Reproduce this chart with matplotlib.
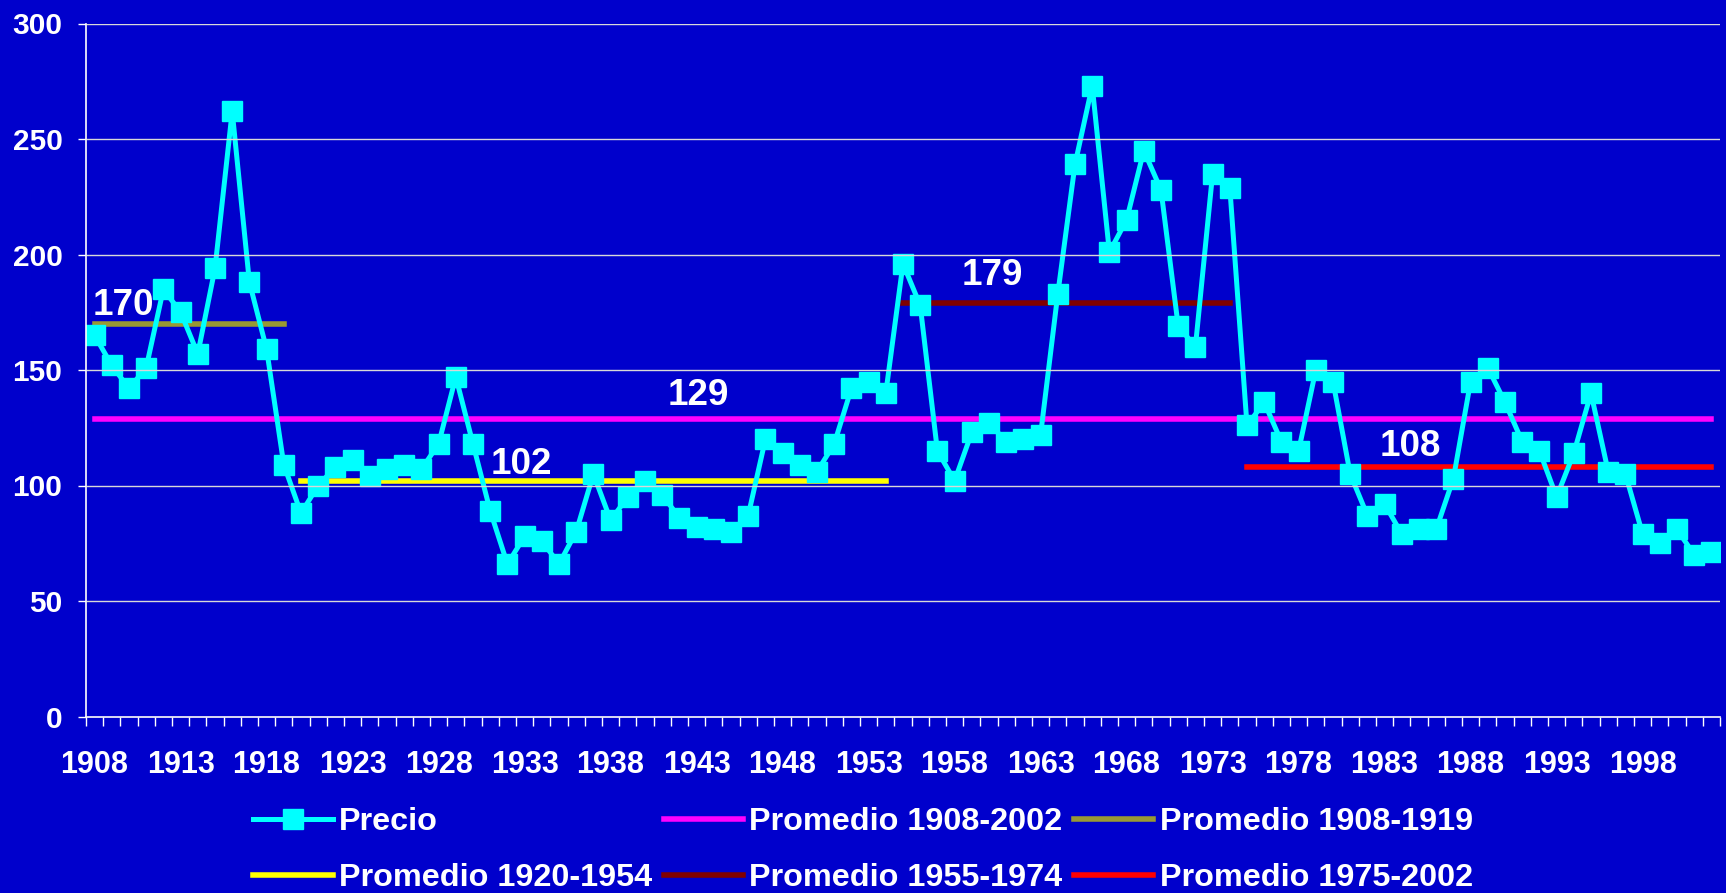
#!/usr/bin/env python3
# precio_promedios.py

import matplotlib
matplotlib.use("Agg")
import matplotlib.pyplot as plt
from matplotlib.ticker import FixedLocator, NullFormatter

plt.rcParams["font.family"] = ["Liberation Sans", "DejaVu Sans"]
plt.rcParams["font.weight"] = "bold"

# Price series, one value per year
years = list(range(1908, 2003))
precio = [
    165, 152, 142, 151, 185, 175, 157, 194, 262, 188,
    159, 109, 88, 100, 108, 111, 104, 107, 109, 107,
    118, 147, 118, 89, 66, 78, 76, 66, 80, 105,
    85, 95, 102, 96, 86, 82, 81, 80, 87, 120,
    114, 109, 106, 118, 142, 145, 140, 196, 178, 115,
    102, 123, 127, 119, 120, 122, 183, 239, 273, 201,
    215, 245, 228, 169, 160, 235, 229, 126, 136, 119,
    115, 150, 145, 105, 87, 92, 79, 81, 81, 103,
    145, 151, 136, 119, 115, 95, 114, 140, 106, 105,
    79, 75, 81, 70, 71,
]

# Period averages
periodos = [(1908, 2002), (1908, 1919), (1920, 1954), (1955, 1974), (1975, 2002)]
promedios = [129, 170, 102, 179, 108]
colores_prom = ["#FF00FF", "#999933", "#FFFF00", "#800000", "#FF0000"]

xtick_years = list(range(1908, 2002, 5))
yticks = [0, 50, 100, 150, 200, 250, 300]

BG = "#0000CC"

fig = plt.figure(figsize=(17.26, 8.93), dpi=100, facecolor=BG)
ax = fig.add_axes([86 / 1726, 1 - 716.5 / 893, (1720 - 86) / 1726, (716.5 - 23.5) / 893])
ax.set_facecolor(BG)

handles = {}
for (a, b), v, c in zip(periodos, promedios, colores_prom):
    (h,) = ax.plot([a, b], [v, v], color=c, lw=4.0, solid_capstyle="projecting",
                   zorder=1.6, label=f"Promedio {a}-{b}")
    handles[(a, b)] = h

(hp,) = ax.plot(years, precio, color="#00FFFF", lw=3.6, marker="s", markersize=14.4,
                markerfacecolor="#00FFFF", markeredgecolor="#00FFFF", zorder=2,
                label="Precio")

# Labels of the averages
etiquetas = [(1943.1, 139), (1909.7, 178), (1932.8, 109), (1960.2, 191), (1984.5, 117)]
for (x, y), v in zip(etiquetas, promedios):
    ax.text(x, y, str(v), color="white", fontsize=26.5, fontweight="bold",
            ha="center", va="center", zorder=5)

ax.set_xlim(1907.5, 2002.5)
ax.set_ylim(0, 300)
ax.set_yticks(yticks)
ax.set_xticks(xtick_years)
ax.set_xticklabels([str(y) for y in xtick_years])
ax.xaxis.set_minor_locator(FixedLocator([y + 0.5 for y in range(1907, 2003)]))
ax.xaxis.set_minor_formatter(NullFormatter())

ax.tick_params(axis="x", which="major", length=0, pad=24, labelsize=22, labelcolor="white")
ax.tick_params(axis="x", which="minor", length=6.5, width=1, color="white", direction="out")
ax.tick_params(axis="y", length=6, width=1, color="white", pad=11, labelsize=21.5,
               labelcolor="white")
for lab in ax.get_xticklabels() + ax.get_yticklabels():
    lab.set_fontweight("bold")

# gridlines sit above the series, as in the original
ax.set_axisbelow(False)
ax.grid(axis="y", color="#D8D8D8", lw=1.0)
for s in ["top", "right"]:
    ax.spines[s].set_visible(False)
for s in ["left", "bottom"]:
    ax.spines[s].set_color("white")
    ax.spines[s].set_linewidth(1.2)

orden = [hp, handles[(1920, 1954)], handles[(1908, 2002)], handles[(1955, 1974)],
         handles[(1908, 1919)], handles[(1975, 2002)]]
leg = fig.legend(handles=orden, labels=[h.get_label() for h in orden], ncol=3,
                 loc="center", bbox_to_anchor=(0.5, (893 - 850) / 893),
                 frameon=False, fontsize=23.3, handlelength=2.45, handletextpad=0.2,
                 columnspacing=0.35, labelspacing=0.8, borderpad=0)
for t in leg.get_texts():
    t.set_color("white")
    t.set_fontweight("bold")

fig.savefig("out.png", dpi=100, facecolor=BG)
